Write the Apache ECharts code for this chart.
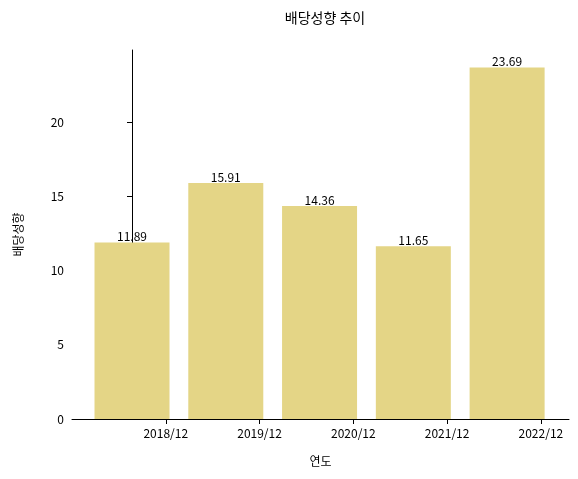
<!DOCTYPE html>
<html><head><meta charset="utf-8">
<script src="https://cdn.jsdelivr.net/npm/echarts@6/dist/echarts.min.js"></script>
<style>body{margin:0}#chart{width:578px;height:479px}</style>
</head><body><div id="chart"></div>
<script>
const years = ['2018/12', '2019/12', '2020/12', '2021/12', '2022/12'];
const payout = [11.89, 15.91, 14.36, 11.65, 23.69];
const font = '"Noto Sans CJK KR", sans-serif';
const chart = echarts.init(document.getElementById('chart'));
chart.setOption({
  animation: false,
  textStyle: { fontFamily: font },
  title: { text: '배당성향 추이', left: 320, top: 6, textAlign: 'center',
    textStyle: { fontSize: 14, fontWeight: 'normal', color: '#000', fontFamily: font } },
  grid: { left: 72, right: 9, top: 50, bottom: 60 },
  xAxis: {
    type: 'value', min: -0.64, max: 4.66, interval: 1,
    name: '연도', nameLocation: 'middle', nameGap: 36,
    nameTextStyle: { fontSize: 12, color: '#000' },
    axisLine: { show: true, onZero: false, lineStyle: { color: '#000' } },
    axisTick: { show: true, lineStyle: { color: '#000' } },
    splitLine: { show: false },
    axisLabel: { color: '#000', fontSize: 12, showMinLabel: false, showMaxLabel: false,
      formatter: v => years[Math.round(v)] || '' }
  },
  yAxis: {
    type: 'value', min: 0, max: 24.87, interval: 5,
    name: '배당성향', nameLocation: 'middle', nameGap: 48, nameRotate: 90,
    nameTextStyle: { fontSize: 12, color: '#000' },
    axisLine: { show: true, lineStyle: { color: '#000' } },
    axisTick: { show: true, lineStyle: { color: '#000' } },
    splitLine: { show: false },
    axisLabel: { color: '#000', fontSize: 12, showMaxLabel: false }
  },
  series: [{
    type: 'bar', barWidth: 75,
    data: payout.map((v, i) => [i, v]),
    itemStyle: { color: '#e4d586' },
    label: { show: true, position: 'top', distance: 0, color: '#000', fontSize: 12,
      formatter: p => p.value[1].toFixed(2) }
  }]
});
</script></body></html>
